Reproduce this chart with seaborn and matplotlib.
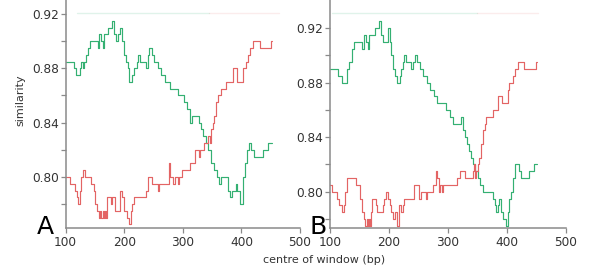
import matplotlib
matplotlib.use("Agg")
import matplotlib.pyplot as plt
import seaborn as sns
import pandas as pd
import numpy as np

# ---- data ----
green_a_x = [100,115,118,124,127,130,131,135,138,141,155,157,160,163,166,173,179,182,186,190,193,197,200,203,206,209,213,217,221,224,227,238,240,243,247,251,257,263,270,279,292,302,308,312,316,324,327,331,335,339,343,348,354,358,362,366,377,381,384,390,393,398,403,406,410,413,417,422,437,446,452]
green_a_y = [.885,.880,.875,.880,.885,.880,.885,.890,.895,.900,.895,.905,.900,.895,.905,.910,.915,.905,.900,.905,.910,.900,.890,.885,.880,.870,.875,.880,.885,.890,.885,.880,.890,.895,.890,.885,.880,.875,.870,.865,.860,.855,.850,.840,.845,.845,.840,.835,.830,.825,.820,.810,.805,.800,.795,.800,.790,.785,.790,.795,.790,.780,.800,.810,.820,.825,.820,.815,.820,.825,.825]
red_a_x = [100,108,116,119,121,124,127,130,133,143,149,151,154,157,159,161,163,165,167,169,170,177,179,184,192,196,199,205,208,211,214,217,238,241,248,257,260,276,279,283,287,291,294,299,312,320,327,330,336,343,346,348,351,354,357,360,366,374,385,393,403,408,411,414,420,431,451,452]
red_a_y = [.800,.795,.790,.785,.780,.790,.800,.805,.800,.795,.790,.780,.775,.770,.775,.770,.775,.770,.775,.770,.785,.780,.785,.775,.790,.785,.775,.770,.765,.775,.780,.785,.790,.800,.795,.790,.795,.810,.800,.795,.800,.795,.800,.805,.810,.820,.815,.820,.825,.830,.825,.835,.840,.845,.855,.860,.865,.870,.880,.870,.880,.885,.890,.895,.900,.895,.900,.900]
green_b_x = [100,114,120,128,132,137,141,155,158,161,164,166,177,183,186,190,198,201,204,206,210,214,218,220,223,226,229,238,241,244,247,252,258,264,270,276,282,296,303,309,322,325,329,332,336,339,342,346,350,355,359,376,379,382,384,387,390,394,398,401,404,407,410,413,420,424,438,445,450]
green_b_y = [.890,.885,.880,.890,.895,.905,.910,.905,.915,.910,.905,.915,.920,.925,.915,.910,.920,.910,.900,.890,.885,.880,.885,.890,.895,.900,.895,.890,.895,.900,.895,.890,.885,.880,.875,.870,.865,.860,.855,.850,.855,.845,.840,.835,.830,.825,.820,.815,.810,.805,.800,.795,.790,.785,.790,.795,.785,.780,.775,.785,.795,.800,.810,.820,.815,.810,.815,.820,.820]
red_b_x = [100,104,112,116,120,123,125,129,144,151,154,157,160,162,164,166,168,169,172,178,180,189,192,195,199,201,204,206,210,213,217,220,223,226,242,251,255,262,265,274,279,282,285,287,289,292,299,315,321,329,342,344,346,348,350,353,356,359,362,365,376,384,391,401,404,410,413,419,429,449,451]
red_b_y = [.805,.800,.795,.790,.785,.790,.800,.810,.805,.795,.785,.780,.775,.780,.775,.780,.775,.785,.795,.790,.785,.790,.795,.800,.795,.790,.785,.780,.785,.775,.790,.785,.790,.795,.805,.795,.800,.795,.800,.805,.815,.810,.800,.805,.800,.805,.805,.810,.815,.810,.815,.820,.810,.815,.820,.825,.835,.845,.850,.855,.860,.870,.865,.875,.880,.885,.890,.895,.890,.895,.895]
# faint indicator band at the top of each panel
band_a_x = [119, 345, 465]
band_a_y = 0.9205
band_b_x = [103, 349, 453]
band_b_y = 0.9315

x_ticks = [100, 200, 300, 400, 500]
y_major = [0.80, 0.84, 0.88, 0.92]
y_minor = [0.78, 0.82, 0.86, 0.90]

GREEN = "#34b072"
RED = "#e36464"

def make_df(gx, gy, rx, ry):
    return pd.concat([
        pd.DataFrame({"bp": gx, "sim": gy, "s": "g"}),
        pd.DataFrame({"bp": rx, "sim": ry, "s": "r"}),
    ], ignore_index=True)

df_a = make_df(green_a_x, green_a_y, red_a_x, red_a_y)
df_b = make_df(green_b_x, green_b_y, red_b_x, red_b_y)

sns.set_style("ticks")
plt.rcParams['font.family'] = ['DejaVu Sans']

fig = plt.figure(figsize=(6.0, 2.74), dpi=100)
W, H = 600, 274
ax_a = fig.add_axes([65.6 / W, 1 - 228 / H, (300 - 65.6) / W, 228 / H])
ax_b = fig.add_axes([330 / W, 1 - 228 / H, (566 - 330) / W, 228 / H])

for ax, df, ylim, bx, by in [(ax_a, df_a, (0.7624, 0.9303), band_a_x, band_a_y),
                             (ax_b, df_b, (0.7734, 0.9407), band_b_x, band_b_y)]:
    sns.lineplot(data=df, x="bp", y="sim", hue="s", palette={"g": GREEN, "r": RED},
                 drawstyle="steps-post", estimator=None, legend=False, ax=ax,
                 linewidth=0.85)
    ax.plot(bx[:2], [by, by], color=GREEN, alpha=0.15, lw=1.0)
    ax.plot(bx[1:], [by, by], color=RED, alpha=0.12, lw=1.0)
    ax.set_xlim(100, 500)
    ax.set_ylim(*ylim)
    ax.set_xticks(x_ticks)
    ax.set_xticklabels([str(t) for t in x_ticks])
    ax.set_yticks(y_major)
    ax.set_yticklabels([f"{t:.2f}" for t in y_major])
    ax.set_yticks(y_minor, minor=True)
    ax.set_xlabel("")
    ax.set_ylabel("")
    for s in ["top", "right"]:
        ax.spines[s].set_visible(False)
    for s in ["left", "bottom"]:
        ax.spines[s].set_color("#8a8a8a")
        ax.spines[s].set_linewidth(1.1)
    ax.tick_params(axis="both", which="both", colors="#8a8a8a", labelcolor="#333333",
                   labelsize=8.7, length=3.5, width=0.9, pad=1.5)
    ax.tick_params(axis="x", pad=2)
    ax.patch.set_alpha(0)

fig.text(20 / W, 1 - 100 / H, "similarity", rotation=90, ha="center", va="center",
         fontsize=8, color="#333333")
fig.text(324 / W, 1 - 260 / H, "centre of window (bp)", ha="center", va="center",
         fontsize=8, color="#333333")
fig.text(45 / W, 1 - 227 / H, "A", ha="center", va="center", fontsize=18, color="black")
fig.text(318 / W, 1 - 227 / H, "B", ha="center", va="center", fontsize=18, color="black")

fig.savefig("out.png", dpi=100)
